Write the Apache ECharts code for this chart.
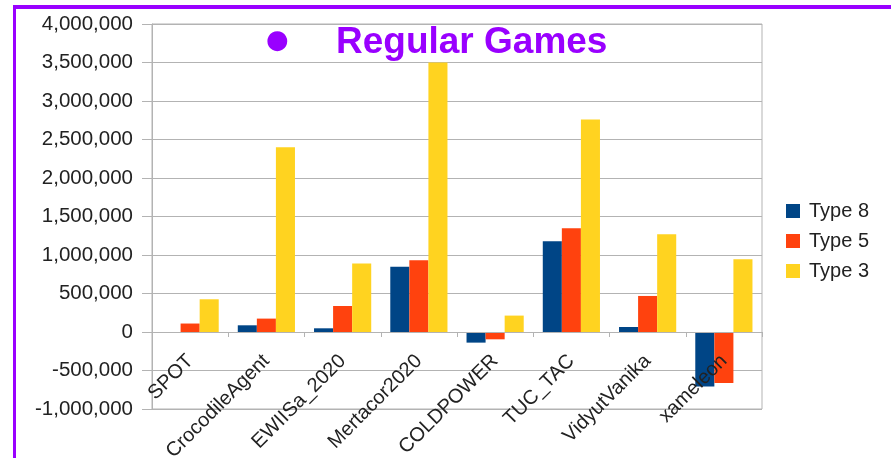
<!DOCTYPE html>
<html>
<head>
<meta charset="utf-8">
<script src="https://cdn.jsdelivr.net/npm/echarts@6/dist/echarts.min.js"></script>
<style>
  html, body { margin: 0; padding: 0; background: #fff; }
  #chart { width: 891px; height: 458px; }
</style>
</head>
<body>
<div id="chart"></div>
<script>
// Agents and their scores per tariff type
const categories = ['SPOT', 'CrocodileAgent', 'EWIISa_2020', 'Mertacor2020', 'COLDPOWER', 'TUC_TAC', 'VidyutVanika', 'xameleon'];
const seriesNames = ['Type 8', 'Type 5', 'Type 3'];
const type8 = [0, 87000, 48000, 849000, -138000, 1180000, 65000, -709000];
const type5 = [110000, 174000, 338000, 931000, -95000, 1347000, 468000, -662000];
const type3 = [425000, 2400000, 888000, 3500000, 213000, 2760000, 1269000, 944000];
const yMin = -1000000, yMax = 4000000, yStep = 500000;

const colors = ['#004586', '#ff420e', '#ffd320'];
const labelFont = 'Liberation Sans, Arial, sans-serif';

// plot area geometry
const gridTop = 24, gridBottom = 49, chartHeight = 458;
const plotHeight = chartHeight - gridTop - gridBottom;
// lift the category axis from the bottom edge up to the zero line
const zeroLift = plotHeight * (0 - yMin) / (yMax - yMin);

const chart = echarts.init(document.getElementById('chart'), null, { renderer: 'canvas' });

function barSeries(name, data, color) {
  return {
    name: name,
    type: 'bar',
    data: data,
    barGap: '0%',
    barCategoryGap: '25%',
    itemStyle: { color: color },
    emphasis: { disabled: true }
  };
}

chart.setOption({
  animation: false,
  backgroundColor: '#ffffff',
  color: colors,
  title: [
    {
      text: '●',
      left: 266,
      top: 28,
      padding: 0,
      textStyle: { color: '#9900ff', fontSize: 26, fontFamily: 'DejaVu Sans', fontWeight: 'normal' }
    },
    {
      text: 'Regular Games',
      left: 336,
      top: 24,
      padding: 0,
      textStyle: { color: '#9900ff', fontSize: 37, fontFamily: labelFont, fontWeight: 'bold' }
    }
  ],
  legend: {
    orient: 'vertical',
    left: 786,
    top: 201,
    padding: 0,
    itemWidth: 14,
    itemHeight: 14,
    itemGap: 10,
    icon: 'rect',
    data: seriesNames,
    textStyle: { color: '#222', fontSize: 20, fontFamily: labelFont, padding: [0, 0, 0, 4] }
  },
  grid: {
    left: 152,
    right: 129,
    top: gridTop,
    bottom: gridBottom,
    outerBoundsMode: 'none',
    containLabel: false,
    show: true,
    borderColor: '#b3b3b3',
    borderWidth: 1
  },
  xAxis: {
    type: 'category',
    data: categories,
    position: 'bottom',
    offset: -zeroLift,
    z: 5,
    axisLine: { show: true, onZero: false, lineStyle: { color: '#b3b3b3', width: 1 } },
    axisTick: { show: true, length: 5, lineStyle: { color: '#b3b3b3' } },
    axisLabel: {
      rotate: 45,
      margin: 26,
      interval: 0,
      hideOverlap: false,
      color: '#222',
      fontSize: 20,
      fontFamily: labelFont
    },
    splitLine: { show: false }
  },
  yAxis: {
    type: 'value',
    min: yMin,
    max: yMax,
    interval: yStep,
    axisLine: { show: true, lineStyle: { color: '#b3b3b3', width: 1 } },
    axisTick: { show: true, length: 10, lineStyle: { color: '#b3b3b3' } },
    axisLabel: {
      margin: 19,
      color: '#222',
      fontSize: 20.5,
      fontFamily: labelFont,
      formatter: function (v) { return v.toLocaleString('en-US'); }
    },
    splitLine: { show: true, lineStyle: { color: '#b3b3b3', width: 1 } }
  },
  series: [
    barSeries(seriesNames[0], type8, colors[0]),
    barSeries(seriesNames[1], type5, colors[1]),
    barSeries(seriesNames[2], type3, colors[2])
  ],
  graphic: [
    // purple frame along the top and left edges
    { type: 'rect', left: 13, top: 5, shape: { width: 878, height: 4 }, style: { fill: '#9900ff' }, silent: true },
    { type: 'rect', left: 13, top: 5, shape: { width: 3, height: 453 }, style: { fill: '#9900ff' }, silent: true }
  ]
});
</script>
</body>
</html>
